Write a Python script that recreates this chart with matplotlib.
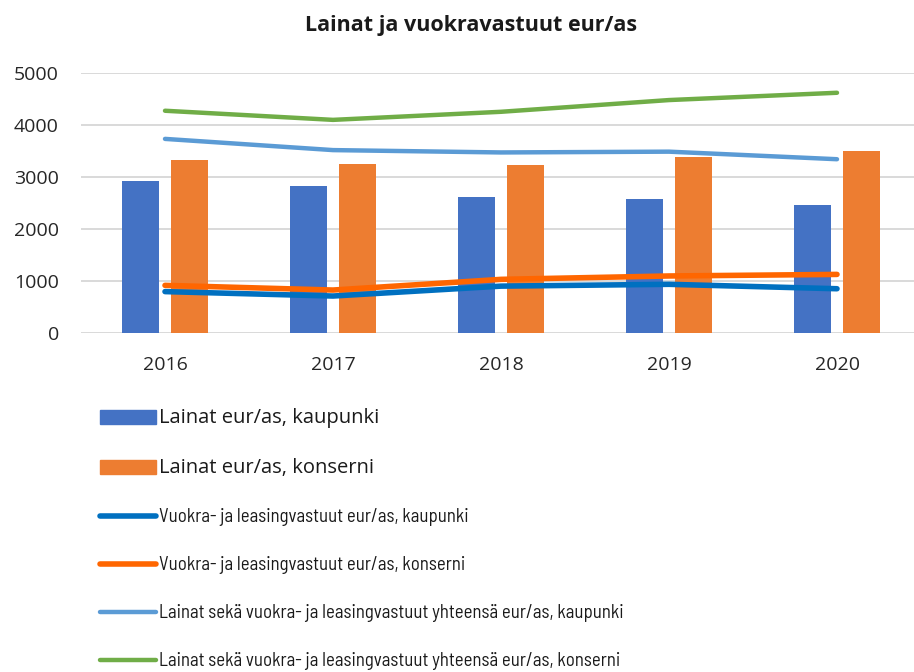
import matplotlib.pyplot as plt
import matplotlib.font_manager as fm
import numpy as np
from matplotlib.patches import Patch
from matplotlib.lines import Line2D

# data
years = ['2016', '2017', '2018', '2019', '2020']
lainat_kaupunki = [2930, 2830, 2610, 2585, 2455]
lainat_konserni = [3325, 3250, 3225, 3375, 3500]
vuokra_kaupunki = [800, 715, 905, 940, 855]
vuokra_konserni = [920, 830, 1035, 1100, 1130]
yht_kaupunki = [3730, 3515, 3470, 3485, 3340]
yht_konserni = [4270, 4095, 4250, 4475, 4615]

labels = [
    'Lainat eur/as, kaupunki',
    'Lainat eur/as, konserni',
    'Vuokra- ja leasingvastuut eur/as, kaupunki',
    'Vuokra- ja leasingvastuut eur/as, konserni',
    'Lainat sekä vuokra- ja leasingvastuut yhteensä eur/as, kaupunki',
    'Lainat sekä vuokra- ja leasingvastuut yhteensä eur/as, konserni',
]

plt.rcParams['font.family'] = ['Open Sans', 'DejaVu Sans']

fig = plt.figure(figsize=(9.14, 6.72), dpi=100)
ax = fig.add_axes([81 / 914, 1 - 333.3 / 672, 840 / 914, (333.3 - 72.7) / 672])

x = np.arange(len(years))
w = 0.22
ax.bar(x - 0.143, lainat_kaupunki, w, color='#4472C4', zorder=2)
ax.bar(x + 0.143, lainat_konserni, w, color='#ED7D31', zorder=2)

line_styles = [
    (vuokra_kaupunki, '#0070C0', 4.0),
    (vuokra_konserni, '#FF6600', 4.0),
    (yht_kaupunki, '#5B9BD5', 3.2),
    (yht_konserni, '#70AD47', 3.2),
]
for vals, c, lw in line_styles:
    ax.plot(x, vals, color=c, lw=lw, solid_capstyle='round', solid_joinstyle='round', zorder=3)

ax.set_xlim(-0.5, 4.5)
ax.set_ylim(0, 5000)
ax.set_yticks(range(0, 5001, 1000))
ax.set_xticks(x)
ax.set_xticklabels(years)
ax.grid(axis='y', color='#d9d9d9', lw=1.4, zorder=0)
for s in ['top', 'right', 'left', 'bottom']:
    ax.spines[s].set_visible(False)
ax.tick_params(length=0, labelsize=14, colors='#404040', labelcolor='#262626')
ax.tick_params(axis='y', pad=16)
ax.tick_params(axis='x', pad=16)

fig.text(471 / 914, 1 - 25 / 672, 'Lainat ja vuokravastuut eur/as', ha='center', va='center',
         fontsize=15.5, fontweight='bold', color='#1a1a1a')

# the long legend rows use a condensed face: pick the one closest to the reference width
fig.canvas.draw()
r = fig.canvas.get_renderer()
upright = sorted({f.name for f in fm.fontManager.ttflist
                  if f.style == 'normal' and f.weight in (400, 'normal', 'regular')})
narrowish = [n for n in upright if ('Condensed' in n or 'Narrow' in n) and 'Mono' not in n]
narrowish += ['Open Sans', 'Roboto', 'Liberation Sans']


def width_of(text, family, size=13.5):
    t = fig.text(0, 0, text, fontsize=size, family=family)
    wpx = t.get_window_extent(r).width
    t.remove()
    return wpx


best = None
for fam in narrowish:
    wpx = width_of(labels[5], fam)
    if best is None or abs(wpx - 461) < abs(best[1] - 461):
        best = (fam, wpx)
font_b = best[0]
size_b = 13.5 * 461 / best[1]

handles = [
    Patch(color='#4472C4'),
    Patch(color='#ED7D31'),
] + [Line2D([0], [0], color=c, lw=lw, solid_capstyle='round') for _, c, lw in line_styles]

leg = fig.legend(handles, labels, loc='upper left', bbox_to_anchor=(92 / 914, 1 - 401 / 672),
                 frameon=False, fontsize=13.5, handlelength=3.0, handletextpad=0.15,
                 labelspacing=1.6, borderaxespad=0)
for i, t in enumerate(leg.get_texts()):
    t.set_color('#1a1a1a')
    if i < 2:
        t.set_fontsize(14.5)
    else:
        t.set_fontfamily(font_b)
        t.set_fontsize(size_b)

fig.savefig('out.png', dpi=100)
